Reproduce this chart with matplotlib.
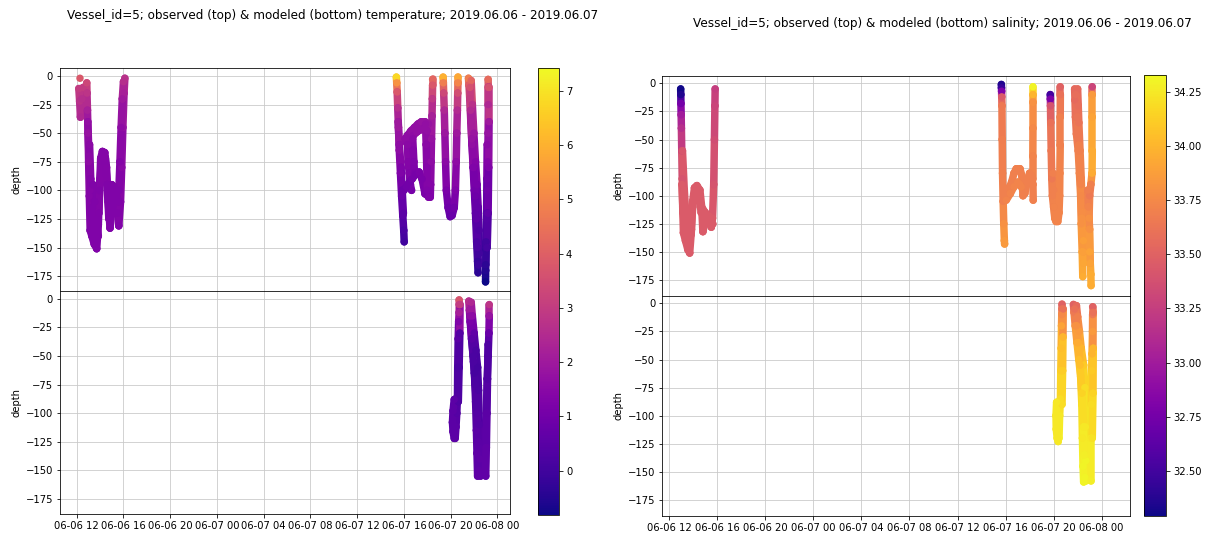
from datetime import datetime, timedelta

import matplotlib

matplotlib.use("Agg")
import matplotlib.dates as mdates
import matplotlib.pyplot as plt
from matplotlib.cm import ScalarMappable
from matplotlib.colors import Normalize
from matplotlib.ticker import MultipleLocator

BASE = datetime(2019, 6, 6)
W, H = 1208, 535

# casts: hours since 2019-06-06 00:00, depth, value
obs_temp_hours = [
    [12.28],
    [12.18, 12.25, 12.32, 12.45, 12.55],
    [12.86, 12.88, 12.92, 12.97, 13.02, 13.08, 13.15, 13.3, 13.5, 13.71, 13.85, 13.95, 14.05, 14.2,
     14.4, 14.55, 14.7, 14.85, 15.0, 15.15, 15.35, 15.5, 15.6, 15.75, 15.85, 15.95, 16.05, 16.12],
    [12.95, 13.05, 13.15, 13.3, 13.45, 13.6],
    [13.1, 13.2, 13.35, 13.5, 13.65],
    [13.4, 13.55, 13.7, 13.85],
    [13.9, 14.0, 14.15, 14.3, 14.45, 14.6, 14.75],
    [14.8, 15.0, 15.2, 15.4, 15.6],
    [15.6, 15.7, 15.8, 15.9, 16.0],
    [39.35, 39.38, 39.42, 39.47, 39.53, 39.6, 39.7, 39.8, 39.9, 39.98, 40.02],
    [39.5, 39.6, 39.75, 39.85, 39.95],
    [40.1, 40.3, 40.6, 40.9, 41.2, 41.5, 41.8, 42.1],
    [40.2, 40.5, 40.8, 41.1, 41.4, 41.7, 42.0],
    [40.3, 40.35, 40.45, 40.55, 40.65],
    [40.75, 40.8, 40.85, 40.9],
    [40.0, 40.2, 40.45, 40.7, 41.0, 41.3, 41.55, 41.8, 42.1],
    [42.45, 42.45, 42.43, 42.4, 42.36, 42.32, 42.28, 42.25],
    [41.85, 41.9, 41.95, 42.0, 42.1],
    [43.35, 43.37, 43.4, 43.45, 43.5, 43.56, 43.63, 43.78, 43.95],
    [44.62, 44.62, 44.6, 44.57, 44.52, 44.47, 44.4, 44.3, 44.12],
    [45.52, 45.56, 45.63, 45.72, 45.82, 45.92, 46.02, 46.12, 46.22, 46.3, 46.34],
    [45.75, 45.85, 45.98, 46.12, 46.25, 46.35, 46.42, 46.45],
    [45.65, 45.7, 45.8, 45.95, 46.1, 46.2, 46.3, 46.38],
    [47.2, 47.22, 47.22, 47.2, 47.17, 47.13, 47.08, 47.03, 46.99, 46.98],
    [47.12, 47.1, 47.07, 47.03, 47.0],
    [47.28, 47.28, 47.25, 47.2, 47.12],
]
obs_temp_depth = [
    [-2],
    [-11, -22, -36, -20, -10],
    [-6, -15, -30, -50, -75, -105, -135, -140, -147, -151, -130, -100, -72, -66,
     -67, -80, -110, -133, -118, -98, -100, -120, -131, -110, -80, -45, -15, -2],
    [-40, -70, -100, -120, -130, -140],
    [-60, -90, -115, -130, -140],
    [-95, -110, -125, -140],
    [-120, -90, -70, -68, -72, -95, -125],
    [-100, -95, -97, -105, -110],
    [-100, -75, -45, -20, -5],
    [-1, -6, -14, -28, -45, -65, -85, -105, -122, -135, -145],
    [-40, -60, -80, -100, -120],
    [-55, -52, -48, -45, -42, -40, -40, -42],
    [-58, -55, -52, -49, -47, -46, -48],
    [-60, -75, -85, -95, -100],
    [-55, -65, -75, -85],
    [-100, -97, -93, -90, -86, -84, -90, -103, -105],
    [-3, -8, -20, -35, -55, -75, -95, -106],
    [-42, -60, -80, -100, -106],
    [-1, -6, -15, -30, -50, -75, -100, -115, -123],
    [-1, -6, -15, -30, -50, -75, -100, -115, -122],
    [-2, -8, -20, -40, -60, -80, -100, -120, -145, -162, -172],
    [-4, -25, -50, -75, -95, -115, -135, -155],
    [-10, -30, -55, -80, -105, -125, -150, -165],
    [-3, -10, -25, -50, -75, -100, -125, -150, -170, -180],
    [-60, -90, -120, -145, -165],
    [-10, -40, -80, -120, -150],
]
obs_temp_value = [
    [3.8],
    [3.0, 2.7, 2.4, 2.6, 3.0],
    [3.3, 2.8, 2.2, 1.8, 1.6, 1.4, 1.3, 1.3, 1.3, 1.3, 1.3, 1.3, 1.4, 1.4,
     1.4, 1.4, 1.3, 1.3, 1.3, 1.3, 1.3, 1.3, 1.3, 1.4, 1.5, 1.8, 2.2, 2.7],
    [1.7, 1.5, 1.4, 1.3, 1.3, 1.3],
    [1.5, 1.4, 1.3, 1.3, 1.3],
    [1.3, 1.3, 1.3, 1.3],
    [1.3, 1.4, 1.4, 1.4, 1.4, 1.3, 1.3],
    [1.3, 1.3, 1.3, 1.3, 1.3],
    [1.3, 1.4, 1.6, 2.0, 2.6],
    [6.8, 5.3, 3.8, 2.6, 2.0, 1.6, 1.3, 0.9, 0.5, 0.2, 0.0],
    [2.0, 1.6, 1.3, 0.9, 0.5],
    [1.6, 1.6, 1.7, 1.7, 1.7, 1.8, 1.8, 1.8],
    [1.6, 1.6, 1.6, 1.7, 1.7, 1.7, 1.7],
    [1.5, 1.4, 1.3, 1.2, 1.1],
    [1.5, 1.4, 1.3, 1.2],
    [0.9, 1.0, 1.0, 1.1, 1.1, 1.2, 1.2, 1.2, 1.2],
    [4.2, 3.8, 2.9, 2.2, 1.8, 1.6, 1.4, 1.3],
    [1.7, 1.5, 1.4, 1.3, 1.3],
    [6.0, 4.8, 3.3, 2.4, 1.9, 1.5, 1.2, 0.9, 0.7],
    [5.8, 5.0, 3.5, 2.5, 2.0, 1.6, 1.3, 1.0, 0.8],
    [4.8, 4.0, 3.0, 2.2, 1.7, 1.3, 1.0, 0.6, 0.2, -0.2, -0.4],
    [4.2, 2.7, 1.9, 1.4, 1.1, 0.7, 0.3, 0.0],
    [3.6, 2.5, 1.8, 1.3, 0.9, 0.6, 0.2, -0.1],
    [4.3, 3.5, 2.4, 1.8, 1.4, 1.0, 0.4, 0.0, -0.5, -0.8],
    [1.5, 1.0, 0.4, 0.0, -0.4],
    [3.6, 2.0, 1.3, 0.6, 0.1],
]

mod_temp_hours = [
    [44.72, 44.73, 44.72, 44.68, 44.64, 44.6, 44.58, 44.52, 44.45, 44.38],
    [44.8, 44.78, 44.72, 44.65],
    [44.3, 44.2, 44.15, 44.2, 44.3],
    [45.55, 45.6, 45.67, 45.78, 45.93, 46.03, 46.13, 46.2, 46.25, 46.3],
    [45.75, 45.85, 46.0, 46.15, 46.3, 46.38, 46.45, 46.5, 46.55],
    [45.65, 45.8, 45.95, 46.1, 46.25, 46.35, 46.4],
    [47.3, 47.3, 47.27, 47.2, 47.12, 47.05, 47.02, 47.0],
    [47.2, 47.15, 47.1, 47.05, 46.95],
]
mod_temp_depth = [
    [-1, -5, -12, -20, -35, -60, -85, -100, -112, -122],
    [-5, -30, -60, -90],
    [-88, -98, -108, -116, -122],
    [-2, -10, -20, -35, -50, -65, -90, -115, -135, -155],
    [-3, -15, -30, -45, -60, -80, -110, -140, -155],
    [-15, -35, -55, -75, -100, -125, -150],
    [-5, -15, -30, -50, -70, -100, -130, -155],
    [-40, -70, -100, -130, -150],
]
mod_temp_value = [
    [3.7, 3.0, 2.2, 1.3, 0.5, 0.2, 0.3, 0.4, 0.5, 0.5],
    [3.0, 0.4, 0.2, 0.3],
    [0.5, 0.5, 0.5, 0.5, 0.5],
    [2.6, 2.0, 1.2, 0.5, 0.2, 0.1, 0.3, 0.5, 0.6, 0.6],
    [2.4, 1.6, 0.6, 0.2, 0.1, 0.2, 0.4, 0.6, 0.6],
    [1.6, 0.5, 0.2, 0.2, 0.4, 0.5, 0.6],
    [2.8, 1.8, 0.8, 0.3, 0.3, 0.5, 0.6, 0.6],
    [0.3, 0.3, 0.5, 0.6, 0.6],
]

obs_sal_hours = [
    [12.95, 12.96, 12.97, 12.99, 13.01, 13.04, 13.08, 13.12, 13.18, 13.35, 13.55, 13.7, 13.85, 13.95,
     14.1, 14.3, 14.55, 14.7, 14.8, 14.95, 15.1, 15.3, 15.5, 15.6, 15.7, 15.76, 15.8, 15.82],
    [13.05, 13.15, 13.3, 13.45, 13.6],
    [13.1, 13.25, 13.4, 13.55, 13.7],
    [13.8, 13.95, 14.1, 14.3, 14.5, 14.65],
    [14.8, 15.0, 15.2, 15.4, 15.6],
    [39.65, 39.66, 39.67, 39.68, 39.7, 39.72, 39.75, 39.8, 39.85, 39.9, 39.92],
    [39.95, 40.15, 40.35, 40.5, 40.7, 40.9, 41.2, 41.35, 41.45, 41.6, 41.8, 42.0, 42.15, 42.28, 42.3],
    [40.05, 40.4, 40.7, 41.0, 41.3],
    [42.28, 42.28, 42.28, 42.28, 42.27, 42.27],
    [43.72, 43.73, 43.74, 43.76, 43.8, 43.85, 43.9, 44.0, 44.1, 44.2],
    [43.95, 44.0, 44.05, 44.1],
    [44.56, 44.56, 44.55, 44.55, 44.52, 44.5, 44.45, 44.35],
    [45.75, 45.78, 45.82, 45.9, 46.05, 46.15, 46.25, 46.3, 46.38, 46.43],
    [46.0, 46.05, 46.1, 46.2, 46.3, 46.4, 46.48, 46.52],
    [45.85, 45.95, 46.1, 46.25, 46.35, 46.45],
    [47.22, 47.22, 47.22, 47.22, 47.2, 47.1, 47.0, 46.95, 47.0, 47.1, 47.12],
    [46.85, 46.9, 47.0, 47.05],
]
obs_sal_depth = [
    [-5, -10, -18, -28, -40, -60, -85, -110, -133, -140, -148, -151, -130, -105,
     -93, -91, -95, -110, -132, -125, -117, -118, -128, -120, -90, -50, -20, -5],
    [-90, -115, -130, -140, -145],
    [-60, -95, -120, -135, -140],
    [-135, -110, -100, -97, -100, -115],
    [-112, -115, -122, -125, -125],
    [-1, -4, -7, -12, -20, -50, -80, -105, -125, -140, -143],
    [-100, -100, -92, -88, -80, -76, -76, -82, -100, -98, -88, -80, -82, -90, -104],
    [-104, -98, -92, -88, -92],
    [-3, -10, -17, -40, -65, -85],
    [-10, -14, -20, -35, -60, -85, -100, -110, -120, -123],
    [-80, -95, -110, -118],
    [-3, -10, -30, -55, -80, -100, -115, -123],
    [-5, -15, -30, -45, -60, -80, -100, -125, -150, -172],
    [-5, -20, -35, -60, -85, -115, -140, -160],
    [-10, -30, -55, -90, -120, -150],
    [-3, -10, -30, -60, -80, -90, -100, -120, -150, -170, -180],
    [-95, -110, -130, -160],
]
obs_sal_value = [
    [32.3, 32.35, 32.75, 33.0, 33.15, 33.3, 33.4, 33.45, 33.45, 33.45, 33.45, 33.45, 33.45, 33.45,
     33.45, 33.45, 33.45, 33.45, 33.45, 33.45, 33.45, 33.45, 33.45, 33.45, 33.4, 33.35, 33.3, 33.25],
    [33.45, 33.45, 33.45, 33.45, 33.45],
    [33.42, 33.45, 33.45, 33.45, 33.45],
    [33.45, 33.45, 33.45, 33.45, 33.45, 33.45],
    [33.45, 33.45, 33.45, 33.45, 33.45],
    [32.35, 32.45, 32.8, 33.45, 33.65, 33.68, 33.7, 33.7, 33.8, 33.85, 33.85],
    [33.7, 33.7, 33.7, 33.7, 33.7, 33.7, 33.7, 33.7, 33.7, 33.7, 33.7, 33.7, 33.7, 33.7, 33.7],
    [33.72, 33.72, 33.72, 33.72, 33.72],
    [34.3, 34.0, 33.8, 33.75, 33.72, 33.7],
    [32.5, 32.8, 33.4, 33.6, 33.65, 33.65, 33.7, 33.7, 33.72, 33.72],
    [33.7, 33.7, 33.72, 33.72],
    [33.5, 33.6, 33.7, 33.7, 33.72, 33.72, 33.72, 33.72],
    [33.55, 33.55, 33.6, 33.65, 33.7, 33.72, 33.75, 33.8, 33.9, 33.95],
    [33.55, 33.58, 33.62, 33.7, 33.72, 33.78, 33.88, 33.92],
    [33.58, 33.62, 33.7, 33.72, 33.8, 33.88],
    [33.3, 33.85, 33.9, 33.95, 33.95, 33.7, 33.65, 33.8, 33.9, 33.95, 33.95],
    [33.68, 33.72, 33.8, 33.9],
]

mod_sal_hours = [
    [44.7, 44.7, 44.68, 44.66, 44.63, 44.6, 44.57, 44.5, 44.45],
    [44.8, 44.78, 44.75, 44.7],
    [44.25, 44.2, 44.22, 44.3, 44.38],
    [45.65, 45.7, 45.8, 45.95, 46.1, 46.25, 46.35, 46.4, 46.45, 46.5],
    [45.9, 46.0, 46.15, 46.3, 46.5, 46.6, 46.65, 46.68, 46.7],
    [45.75, 45.9, 46.05, 46.2, 46.35, 46.5, 46.55, 46.6],
    [47.25, 47.25, 47.24, 47.2, 47.17, 47.14, 47.12, 47.12],
    [47.3, 47.3, 47.28, 47.22],
]
mod_sal_depth = [
    [-1, -5, -10, -20, -40, -60, -85, -100, -120],
    [-5, -30, -60, -90],
    [-88, -100, -112, -120, -123],
    [-1, -8, -20, -35, -50, -65, -90, -120, -145, -159],
    [-2, -12, -25, -40, -55, -75, -110, -140, -158],
    [-5, -20, -35, -55, -80, -110, -135, -155],
    [-3, -10, -25, -45, -60, -90, -120, -158],
    [-8, -40, -80, -120],
]
mod_sal_value = [
    [33.5, 33.6, 33.75, 33.9, 34.05, 34.12, 34.2, 34.25, 34.28],
    [33.6, 34.0, 34.12, 34.2],
    [34.25, 34.25, 34.25, 34.25, 34.25],
    [33.5, 33.65, 33.8, 33.95, 34.05, 34.1, 34.2, 34.25, 34.3, 34.3],
    [33.55, 33.7, 33.85, 34.0, 34.1, 34.2, 34.25, 34.3, 34.3],
    [33.6, 33.8, 33.95, 34.05, 34.15, 34.25, 34.28, 34.3],
    [33.5, 33.65, 33.85, 34.0, 34.1, 34.2, 34.25, 34.28],
    [33.6, 34.0, 34.15, 34.22],
]

temp_range = (-0.82, 7.42)
sal_range = (32.29, 34.33)


def px_rect(x0, y0, x1, y1):
    # pixel box (top-left origin) -> figure fraction
    return [x0 / W, 1 - y1 / H, (x1 - x0) / W, (y1 - y0) / H]


def draw_casts(ax, hours, depths, values, norm, cmap):
    for h, d, v in zip(hours, depths, values):
        times = [BASE + timedelta(hours=x) for x in h]
        for i in range(len(h) - 1):
            ax.plot(times[i:i + 2], d[i:i + 2], color=cmap(norm((v[i] + v[i + 1]) / 2)),
                    lw=7.5, solid_capstyle="round", zorder=2)
        ax.scatter(times, d, c=v, cmap=cmap, norm=norm, s=55, edgecolors="none", zorder=3)


def make_panel(fig, title, title_xy, box, cbar_box, xlim, ylim, top, bottom, vrange):
    cmap = plt.get_cmap("plasma")
    norm = Normalize(*vrange)
    x0, y0, x1, y1 = box
    ymid = (y0 + y1) / 2
    ax_top = fig.add_axes(px_rect(x0, y0, x1, ymid))
    ax_bot = fig.add_axes(px_rect(x0, ymid, x1, y1), sharex=ax_top, sharey=ax_top)

    draw_casts(ax_top, *top, norm, cmap)
    draw_casts(ax_bot, *bottom, norm, cmap)

    for ax in (ax_top, ax_bot):
        ax.grid(True, color="#c8c8c8")
        ax.set_axisbelow(True)
        ax.set_ylabel("depth")
        ax.yaxis.set_major_locator(MultipleLocator(25))
    ax_top.set_xlim(BASE + timedelta(hours=xlim[0]), BASE + timedelta(hours=xlim[1]))
    ax_top.set_ylim(*ylim)
    ax_bot.xaxis.set_major_locator(mdates.HourLocator(byhour=range(0, 24, 4)))
    ax_bot.xaxis.set_major_formatter(mdates.DateFormatter("%m-%d %H"))
    ax_top.tick_params(labelbottom=False)

    cax = fig.add_axes(px_rect(*cbar_box))
    fig.colorbar(ScalarMappable(norm=norm, cmap=cmap), cax=cax)

    fig.text(title_xy[0] / W, 1 - title_xy[1] / H, title, ha="center", va="center", fontsize=12)


fig = plt.figure(figsize=(W / 72, H / 72), dpi=72)

make_panel(
    fig,
    "Vessel_id=5; observed (top) & modeled (bottom) temperature; 2019.06.06 - 2019.06.07",
    (333, 16),
    (60, 68.3, 509.5, 514),
    (538, 68.3, 559, 515),
    (10.57, 49.03),
    (-188.1, 6.7),
    (obs_temp_hours, obs_temp_depth, obs_temp_value),
    (mod_temp_hours, mod_temp_depth, mod_temp_value),
    temp_range,
)
make_panel(
    fig,
    "Vessel_id=5; observed (top) & modeled (bottom) salinity; 2019.06.06 - 2019.06.07",
    (942, 23),
    (662.3, 75.7, 1130, 515.7),
    (1144, 75, 1166, 516),
    (11.42, 50.36),
    (-189, 6.8),
    (obs_sal_hours, obs_sal_depth, obs_sal_value),
    (mod_sal_hours, mod_sal_depth, mod_sal_value),
    sal_range,
)

fig.savefig("out.png", dpi=72)
